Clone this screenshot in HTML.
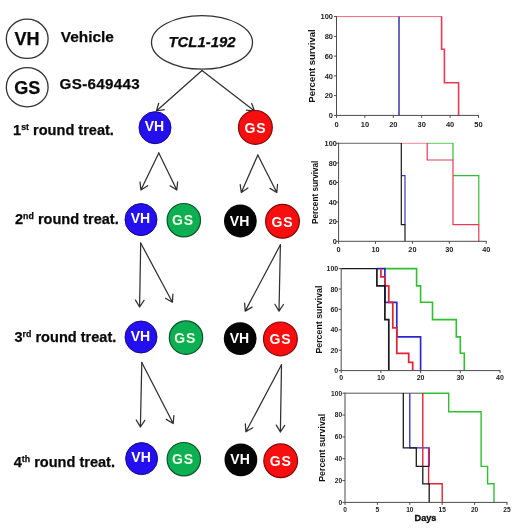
<!DOCTYPE html>
<html><head><meta charset="utf-8"><title>Figure</title>
<style>
html,body{margin:0;padding:0;background:#fff;}
svg{display:block;font-family:"Liberation Sans",sans-serif;}
</style></head><body>
<svg width="520" height="529" viewBox="0 0 520 529">
<rect width="520" height="529" fill="#fff"/>
<g fill="none" stroke="#303030" stroke-width="1.25" stroke-linecap="round" stroke-linejoin="round">
<path d="M202.0 70.5L156.4 111.0M158.7 103.3L156.4 111.0L164.3 109.7"/>
<path d="M202.0 70.5L254.5 111.0M246.5 110.2L254.5 111.0L251.7 103.5"/>
<path d="M158.8 153.0L140.9 190.0M140.0 182.0L140.9 190.0L147.7 185.7"/>
<path d="M158.8 153.0L176.8 190.0M170.0 185.8L176.8 190.0L177.6 182.0"/>
<path d="M257.8 155.0L241.3 192.5M240.2 184.6L241.3 192.5L247.9 188.0"/>
<path d="M257.8 155.0L276.8 192.5M270.0 188.4L276.8 192.5L277.5 184.5"/>
<path d="M140.7 243.0L139.6 307.0M135.5 300.1L139.6 307.0L144.0 300.3"/>
<path d="M140.7 243.0L172.4 302.2M165.5 298.2L172.4 302.2L172.9 294.2"/>
<path d="M280.4 244.8L279.0 311.2M274.9 304.3L279.0 311.2L283.4 304.5"/>
<path d="M280.4 244.8L245.2 311.1M244.6 303.1L245.2 311.1L252.1 307.1"/>
<path d="M141.8 362.5L140.4 427.0M136.3 420.1L140.4 427.0L144.8 420.3"/>
<path d="M141.8 362.5L173.2 423.5M166.3 419.4L173.2 423.5L173.9 415.5"/>
<path d="M281.5 364.8L280.4 432.0M276.3 425.1L280.4 432.0L284.7 425.3"/>
<path d="M281.5 364.8L245.9 431.8M245.3 423.8L245.9 431.8L252.8 427.8"/>
</g>
<g font-weight="bold">
<circle cx="155" cy="127.7" r="16" fill="#2410ee" stroke="#160888" stroke-width="1.0"/><text x="154.5" y="131.4" text-anchor="middle" font-size="14" fill="#fff" letter-spacing="0">VH</text>
<circle cx="255.4" cy="127.4" r="16.9" fill="#f80e0e" stroke="#800808" stroke-width="1.2"/><text x="255.4" y="132.7" text-anchor="middle" font-size="14" fill="#fff" letter-spacing="0.8">GS</text>
<circle cx="141" cy="219.6" r="16" fill="#2410ee" stroke="#160888" stroke-width="1.0"/><text x="140.5" y="223.3" text-anchor="middle" font-size="14" fill="#fff" letter-spacing="0">VH</text>
<circle cx="183.8" cy="220.2" r="16.7" fill="#0cb052" stroke="#0a5428" stroke-width="1.2"/><text x="183.0" y="225.4" text-anchor="middle" font-size="14" fill="#f4ffe8" letter-spacing="0.8">GS</text>
<circle cx="240.4" cy="221" r="16.4" fill="#050505" stroke="none" stroke-width="1"/><text x="239.6" y="225.5" text-anchor="middle" font-size="14" fill="#fff" letter-spacing="0">VH</text>
<circle cx="282.5" cy="221.3" r="16.9" fill="#f80e0e" stroke="#800808" stroke-width="1.2"/><text x="282.5" y="226.6" text-anchor="middle" font-size="14" fill="#fff" letter-spacing="0.8">GS</text>
<circle cx="141" cy="337" r="16" fill="#2410ee" stroke="#160888" stroke-width="1.0"/><text x="140.5" y="340.7" text-anchor="middle" font-size="14" fill="#fff" letter-spacing="0">VH</text>
<circle cx="186" cy="337.6" r="16.7" fill="#0cb052" stroke="#0a5428" stroke-width="1.2"/><text x="185.2" y="342.8" text-anchor="middle" font-size="14" fill="#f4ffe8" letter-spacing="0.8">GS</text>
<circle cx="240.2" cy="338.6" r="16.4" fill="#050505" stroke="none" stroke-width="1"/><text x="239.4" y="343.1" text-anchor="middle" font-size="14" fill="#fff" letter-spacing="0">VH</text>
<circle cx="280.4" cy="338.90000000000003" r="16.9" fill="#f80e0e" stroke="#800808" stroke-width="1.2"/><text x="280.4" y="344.2" text-anchor="middle" font-size="14" fill="#fff" letter-spacing="0.8">GS</text>
<circle cx="141.6" cy="458.6" r="16" fill="#2410ee" stroke="#160888" stroke-width="1.0"/><text x="141.1" y="462.3" text-anchor="middle" font-size="14" fill="#fff" letter-spacing="0">VH</text>
<circle cx="183.8" cy="459.20000000000005" r="16.7" fill="#0cb052" stroke="#0a5428" stroke-width="1.2"/><text x="183.0" y="464.4" text-anchor="middle" font-size="14" fill="#f4ffe8" letter-spacing="0.8">GS</text>
<circle cx="240.9" cy="459.8" r="16.4" fill="#050505" stroke="none" stroke-width="1"/><text x="240.1" y="464.3" text-anchor="middle" font-size="14" fill="#fff" letter-spacing="0">VH</text>
<circle cx="280.7" cy="460.8" r="16.9" fill="#f80e0e" stroke="#800808" stroke-width="1.2"/><text x="280.7" y="466.1" text-anchor="middle" font-size="14" fill="#fff" letter-spacing="0.8">GS</text>
</g>
<g font-weight="bold" fill="#0a0a0a" stroke="#0a0a0a" stroke-width="0.25">
<ellipse cx="27.2" cy="38.8" rx="20.9" ry="19.6" fill="#fff" stroke="#333" stroke-width="1.3"/>
<ellipse cx="27.2" cy="87.2" rx="20.9" ry="19.6" fill="#fff" stroke="#333" stroke-width="1.3"/>
<text x="27" y="45" text-anchor="middle" font-size="18">VH</text>
<text x="27.3" y="93.8" text-anchor="middle" font-size="18">GS</text>
<text x="60.8" y="41.7" font-size="15.4">Vehicle</text>
<text x="59.6" y="88.7" font-size="15.2" letter-spacing="0.3">GS-649443</text>
<ellipse cx="202" cy="42.4" rx="50.5" ry="26.8" fill="#fff" stroke="#333" stroke-width="1.3"/>
<text x="202" y="47.1" text-anchor="middle" font-size="14.9" font-style="italic">TCL1-192</text>
<text x="13.1" y="134.5" font-size="14.55">1<tspan font-size="8.8" dy="-5">st</tspan><tspan dy="5"> round treat.</tspan></text>
<text x="15" y="223.8" font-size="14.55">2<tspan font-size="8.8" dy="-5">nd</tspan><tspan dy="5"> round treat.</tspan></text>
<text x="14.5" y="342" font-size="14.55">3<tspan font-size="8.8" dy="-5">rd</tspan><tspan dy="5"> round treat.</tspan></text>
<text x="13.7" y="467" font-size="14.55">4<tspan font-size="8.8" dy="-5">th</tspan><tspan dy="5"> round treat.</tspan></text>
</g>
<g><path d="M336.5 16.6L441.6 16.6" fill="none" stroke="#ee6a7c" stroke-width="1.0" stroke-linejoin="miter"/><path d="M441.6 16.2L441.6 49.2L444.4 49.2L444.4 82.8L458.6 82.8L458.6 115.4" fill="none" stroke="#e63a55" stroke-width="1.6" stroke-linejoin="miter"/><path d="M399.0 16.6L399.0 115.4" fill="none" stroke="#3434a8" stroke-width="1.5" stroke-linejoin="miter"/><path d="M336.5 16.1L336.5 115.4L479.0 115.4M334.0 115.4L336.5 115.4M334.0 95.6L336.5 95.6M334.0 75.9L336.5 75.9M334.0 56.1L336.5 56.1M334.0 36.4L336.5 36.4M334.0 16.6L336.5 16.6M336.5 115.4L336.5 117.9M364.9 115.4L364.9 117.9M393.3 115.4L393.3 117.9M421.7 115.4L421.7 117.9M450.1 115.4L450.1 117.9M478.5 115.4L478.5 117.9" fill="none" stroke="#4a4a4a" stroke-width="1"/><g font-weight="bold" font-size="7.5" fill="#222"><text x="333.0" y="118.1" text-anchor="end">0</text><text x="333.0" y="98.3" text-anchor="end">20</text><text x="333.0" y="78.6" text-anchor="end">40</text><text x="333.0" y="58.8" text-anchor="end">60</text><text x="333.0" y="39.1" text-anchor="end">80</text><text x="333.0" y="19.3" text-anchor="end">100</text><text x="336.5" y="127.30000000000001" text-anchor="middle">0</text><text x="364.9" y="127.30000000000001" text-anchor="middle">10</text><text x="393.3" y="127.30000000000001" text-anchor="middle">20</text><text x="421.7" y="127.30000000000001" text-anchor="middle">30</text><text x="450.1" y="127.30000000000001" text-anchor="middle">40</text><text x="478.5" y="127.30000000000001" text-anchor="middle">50</text></g><text transform="translate(315 66.0) rotate(-90)" text-anchor="middle" font-size="9.5" font-weight="bold" fill="#111">Percent survival</text></g>
<g><path d="M427.2 143.3L453.0 143.3" fill="none" stroke="#5ad05a" stroke-width="1.0" stroke-linejoin="miter"/><path d="M453.0 142.9L453.0 160.0M453.0 175.6L478.8 175.6L478.8 224.6" fill="none" stroke="#2fc02f" stroke-width="1.2" stroke-linejoin="miter"/><path d="M401.3 143.3L427.2 143.3" fill="none" stroke="#f08a98" stroke-width="1.0" stroke-linejoin="miter"/><path d="M427.2 142.9L427.2 160.0L453.0 160.0L453.0 224.6L478.8 224.6L478.8 241.3" fill="none" stroke="#e63a55" stroke-width="1.2" stroke-linejoin="miter"/><path d="M401.3 175.6L405.0 175.6L405.0 224.6" fill="none" stroke="#3a3ab8" stroke-width="1.2" stroke-linejoin="miter"/><path d="M338.6 143.3L401.3 143.3" fill="none" stroke="#666" stroke-width="1.0" stroke-linejoin="miter"/><path d="M401.3 142.9L401.3 224.6L405.0 224.6L405.0 241.3" fill="none" stroke="#1a1a1a" stroke-width="1.2" stroke-linejoin="miter"/><path d="M338.6 142.8L338.6 241.3L486.7 241.3M336.1 241.3L338.6 241.3M336.1 221.7L338.6 221.7M336.1 202.1L338.6 202.1M336.1 182.5L338.6 182.5M336.1 162.9L338.6 162.9M336.1 143.3L338.6 143.3M338.6 241.3L338.6 243.8M375.5 241.3L375.5 243.8M412.4 241.3L412.4 243.8M449.3 241.3L449.3 243.8M486.2 241.3L486.2 243.8" fill="none" stroke="#4a4a4a" stroke-width="1"/><g font-weight="bold" font-size="7.3" fill="#222"><text x="336.8" y="243.9" text-anchor="end">0</text><text x="336.8" y="224.3" text-anchor="end">20</text><text x="336.8" y="204.7" text-anchor="end">40</text><text x="336.8" y="185.1" text-anchor="end">60</text><text x="336.8" y="165.5" text-anchor="end">80</text><text x="336.8" y="145.9" text-anchor="end">100</text><text x="338.6" y="252.20000000000002" text-anchor="middle">0</text><text x="375.5" y="252.20000000000002" text-anchor="middle">10</text><text x="412.4" y="252.20000000000002" text-anchor="middle">20</text><text x="449.3" y="252.20000000000002" text-anchor="middle">30</text><text x="486.2" y="252.20000000000002" text-anchor="middle">40</text></g><text transform="translate(317.8 192.3) rotate(-90)" text-anchor="middle" font-size="8.2" font-weight="bold" fill="#111">Percent survival</text></g>
<g><path d="M384.9 268.6L416.6 268.6L416.6 285.9L420.6 285.9L420.6 302.3L432.5 302.3L432.5 319.6L456.3 319.6L456.3 336.9L460.3 336.9L460.3 353.3L464.3 353.3L464.3 370.6" fill="none" stroke="#2fc02f" stroke-width="1.6" stroke-linejoin="miter"/><path d="M376.9 268.6L384.9 268.6L384.9 302.3L396.8 302.3L396.8 336.9L420.6 336.9L420.6 370.6" fill="none" stroke="#2a2ac8" stroke-width="1.7" stroke-linejoin="miter"/><path d="M380.9 268.6L380.9 276.8L384.9 276.8L384.9 285.9L388.8 285.9L388.8 302.3L392.8 302.3L392.8 327.8L396.8 327.8L396.8 353.3L408.7 353.3L408.7 362.4L412.7 362.4L412.7 370.6" fill="none" stroke="#e02434" stroke-width="1.7" stroke-linejoin="miter"/><path d="M341.2 268.6L376.9 268.6" fill="none" stroke="#1a1a1a" stroke-width="1.1" stroke-linejoin="miter"/><path d="M376.9 268.6L376.9 285.9L384.9 285.9L384.9 319.6L388.8 319.6L388.8 370.6" fill="none" stroke="#1a1a1a" stroke-width="1.7" stroke-linejoin="miter"/><path d="M341.2 268.1L341.2 370.6L500.5 370.6M338.7 370.6L341.2 370.6M338.7 350.2L341.2 350.2M338.7 329.8L341.2 329.8M338.7 309.4L341.2 309.4M338.7 289.0L341.2 289.0M338.7 268.6L341.2 268.6M341.2 370.6L341.2 373.1M380.9 370.6L380.9 373.1M420.6 370.6L420.6 373.1M460.3 370.6L460.3 373.1M500.0 370.6L500.0 373.1" fill="none" stroke="#4a4a4a" stroke-width="1"/><g font-weight="bold" font-size="7" fill="#222"><text x="338.2" y="373.1" text-anchor="end">0</text><text x="338.2" y="352.7" text-anchor="end">20</text><text x="338.2" y="332.3" text-anchor="end">40</text><text x="338.2" y="311.9" text-anchor="end">60</text><text x="338.2" y="291.5" text-anchor="end">80</text><text x="338.2" y="271.1" text-anchor="end">100</text><text x="341.2" y="379.6" text-anchor="middle">0</text><text x="380.9" y="379.6" text-anchor="middle">10</text><text x="420.6" y="379.6" text-anchor="middle">20</text><text x="460.3" y="379.6" text-anchor="middle">30</text><text x="500.0" y="379.6" text-anchor="middle">40</text></g><text transform="translate(321.5 319.6) rotate(-90)" text-anchor="middle" font-size="8.8" font-weight="bold" fill="#111">Percent survival</text></g>
<g><path d="M422.8 393.2L448.7 393.2L448.7 411.8L481.1 411.8L481.1 466.4L487.6 466.4L487.6 483.8L494.0 483.8L494.0 502.4" fill="none" stroke="#2fc02f" stroke-width="1.4" stroke-linejoin="miter"/><path d="M409.8 392.9L409.8 447.8L429.2 447.8L429.2 466.4" fill="none" stroke="#2a2ac8" stroke-width="1.3" stroke-linejoin="miter"/><path d="M422.8 392.9L422.8 466.4M428.6 447.8L428.6 483.8L442.2 483.8L442.2 502.4" fill="none" stroke="#e02434" stroke-width="1.4" stroke-linejoin="miter"/><path d="M345.0 393.2L422.8 393.2" fill="none" stroke="#555" stroke-width="1.0" stroke-linejoin="miter"/><path d="M403.3 392.9L403.3 447.8L416.3 447.8L416.3 466.4L429.2 466.4M422.8 466.4L422.8 483.8L429.2 483.8L429.2 502.4" fill="none" stroke="#1a1a1a" stroke-width="1.3" stroke-linejoin="miter"/><path d="M345 392.7L345 502.4L507.5 502.4M342.5 502.4L345 502.4M342.5 480.6L345 480.6M342.5 458.7L345 458.7M342.5 436.9L345 436.9M342.5 415.0L345 415.0M342.5 393.2L345 393.2M345.0 502.4L345.0 504.9M377.4 502.4L377.4 504.9M409.8 502.4L409.8 504.9M442.2 502.4L442.2 504.9M474.6 502.4L474.6 504.9M507.0 502.4L507.0 504.9" fill="none" stroke="#4a4a4a" stroke-width="1"/><g font-weight="bold" font-size="6.6" fill="#222"><text x="342.1" y="504.8" text-anchor="end">0</text><text x="342.1" y="482.9" text-anchor="end">20</text><text x="342.1" y="461.1" text-anchor="end">40</text><text x="342.1" y="439.3" text-anchor="end">60</text><text x="342.1" y="417.4" text-anchor="end">80</text><text x="342.1" y="395.6" text-anchor="end">100</text><text x="345.0" y="511.79999999999995" text-anchor="middle">0</text><text x="377.4" y="511.79999999999995" text-anchor="middle">5</text><text x="409.8" y="511.79999999999995" text-anchor="middle">10</text><text x="442.2" y="511.79999999999995" text-anchor="middle">15</text><text x="474.6" y="511.79999999999995" text-anchor="middle">20</text><text x="507.0" y="511.79999999999995" text-anchor="middle">25</text></g><text transform="translate(325 447.8) rotate(-90)" text-anchor="middle" font-size="8.8" font-weight="bold" fill="#111">Percent survival</text></g>
<text x="425.5" y="521.3" text-anchor="middle" font-size="9.2" font-weight="bold" fill="#111" stroke="#111" stroke-width="0.35">Days</text>
</svg>
</body></html>
